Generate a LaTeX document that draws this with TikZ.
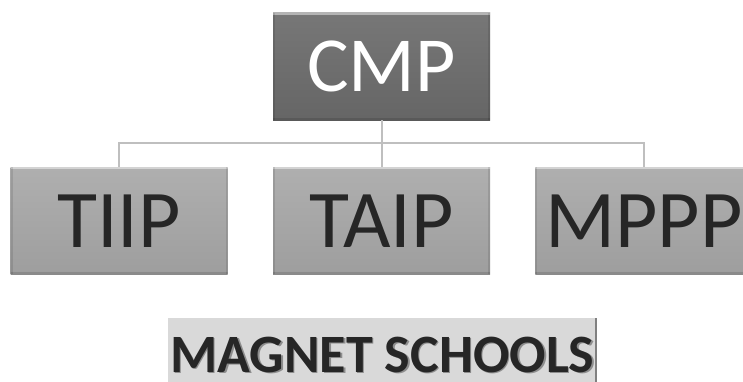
\documentclass[tikz,border=0pt]{standalone}
\usepackage{fontspec}
\setmainfont{Carlito}
\usepackage{xcolor}
\usetikzlibrary{positioning}

\definecolor{bossgray}{HTML}{6B6B6B}
\definecolor{teamgray}{HTML}{A8A8A8}
\definecolor{linkgray}{HTML}{BFBFBF}
\definecolor{inkgray}{HTML}{262626}
\definecolor{tabgray}{HTML}{D9D9D9}

\tikzset{
  bevel/.style={path picture={
      \draw[white,opacity=.45,line width=4pt]
        (path picture bounding box.north west) -- (path picture bounding box.north east);
      \draw[black,opacity=.12,line width=4pt]
        (path picture bounding box.south west) -- (path picture bounding box.south east);
      \draw[black,opacity=.10,line width=4pt]
        (path picture bounding box.north west) -- (path picture bounding box.south west)
        (path picture bounding box.north east) -- (path picture bounding box.south east);}},
  boss/.style={bevel,minimum width=217pt,minimum height=107pt,inner sep=0pt,
    top color=bossgray!92!white,bottom color=bossgray!95!black,
    text=white,font=\fontsize{78}{78}\selectfont},
  team/.style={bevel,minimum width=217pt,minimum height=107pt,inner sep=0pt,
    top color=teamgray!92!white,bottom color=teamgray!94!black,
    text=inkgray,font=\fontsize{82}{82}\selectfont},
  link/.style={draw=linkgray,line width=2pt},
  banner/.style={inner sep=0pt,text=inkgray,font=\fontsize{54}{54}\selectfont\bfseries}
}

\begin{document}
\begin{tikzpicture}[node distance=47pt and 45pt]
  \useasboundingbox (0,0) rectangle (743pt,381pt);

  % top of the chart and its three branches
  \node[boss] (cmp) at (381.5pt,314.5pt) {CMP};
  \node[team] (taip) [below=of cmp] {TAIP};
  \node[team] (tiip) [left=of taip] {TIIP};
  \node[team] (mppp) [right=of taip] {MPPP};

  \draw[link] (cmp.south) -- ++(0,-23pt) coordinate (bus);
  \draw[link] (bus) -| (tiip.north);
  \draw[link] (bus) -- (taip.north);
  \draw[link] (bus) -| (mppp.north);

  % caption strip underneath
  \fill[tabgray] (168pt,-5pt) rectangle (596pt,63pt);
  \draw[gray,line width=1.5pt] (596pt,-5pt) -- (596pt,63pt);
  \node[banner,text=black,opacity=.35] at (384pt,25pt) {MAGNET SCHOOLS};
  \node[banner] (tag) at (382.5pt,26.5pt) {MAGNET SCHOOLS};
\end{tikzpicture}
\end{document}
